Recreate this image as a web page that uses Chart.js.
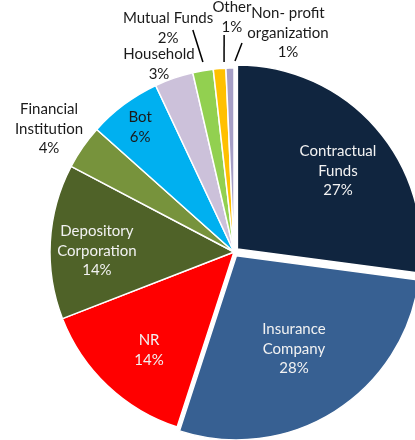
<!DOCTYPE html>
<html>
<head>
<meta charset="utf-8">
<script src="https://cdn.jsdelivr.net/npm/chart.js@4"></script>
<style>
  html, body { margin: 0; padding: 0; background: #ffffff; }
  #pie { display: block; }
</style>
</head>
<body>
<canvas id="pie" width="415" height="440"></canvas>
<script>
// Data (share of holdings, %)
const categories = ['Contractual\nFunds', 'Insurance\nCompany', 'NR', 'Depository\nCorporation',
    'Financial\nInstitution', 'Bot', 'Household', 'Mutual Funds', 'Other', 'Non- profit\norganization'];
const shares = [27.1, 27.9, 14.1, 13.6, 3.9, 6.4, 3.4, 1.8, 1.1, 0.7];

// Styling
const sliceColors = ['#10253f', '#376092', '#ff0000', '#4f6228', '#77933c',
    '#00b0f0', '#ccc1da', '#92d050', '#ffc000', '#a69fc6'];
const sliceOffsets = [18, 18, 0, 0, 0, 0, 0, 0, 0, 0];
const labelColors = ['#f2f2f2', '#f2f2f2', '#f2f2f2', '#f2f2f2', '#1a1a1a',
    '#1a1a1a', '#1a1a1a', '#1a1a1a', '#1a1a1a', '#1a1a1a'];
// label position: [angle in degrees clockwise from top, distance as fraction of radius]
const labelPolar = [[52.1, 0.716], [148.3, 0.62], [220.9, 0.705], [270.4, 0.745], [303.6, 1.207],
    [323.1, 0.85], [338.25, 1.10], [343.6, 1.269], [359.5, 1.277], [13.85, 1.226]];
// leader lines: [startAngle, startDist, endAngle, endDist]
const leaders = {7: [350.7, 1.046, 349.5, 1.227], 8: [357.0, 1.034, 357.4, 1.181], 9: [0.3, 1.038, 2.19, 1.137]};

const FONT = '15px Lato';
const LINE_H = 19.5;

const pieLabels = {
    id: 'pieLabels',
    afterDatasetsDraw(chart) {
        const ctx = chart.ctx;
        const meta = chart.getDatasetMeta(0);
        const total = shares.reduce((a, b) => a + b, 0);
        ctx.save();
        ctx.font = FONT;
        ctx.textAlign = 'center';
        ctx.textBaseline = 'middle';
        meta.data.forEach((arc, i) => {
            const { x, y, outerRadius } = arc.getProps(['x', 'y', 'outerRadius'], true);
            const pt = (deg, f) => {
                const a = deg * Math.PI / 180;
                return [x + Math.sin(a) * f * outerRadius, y - Math.cos(a) * f * outerRadius];
            };
            const lines = categories[i].split('\n');
            lines.push(Math.round(shares[i] / total * 100) + '%');
            const [cx, cy] = pt(labelPolar[i][0], labelPolar[i][1]);
            ctx.fillStyle = labelColors[i];
            const top = cy - (lines.length - 1) * LINE_H / 2;
            lines.forEach((t, k) => ctx.fillText(t, cx, top + k * LINE_H));
            if (leaders[i]) {
                const l = leaders[i];
                const [x1, y1] = pt(l[0], l[1]);
                const [x2, y2] = pt(l[2], l[3]);
                ctx.strokeStyle = '#000000';
                ctx.lineWidth = 1.5;
                ctx.beginPath();
                ctx.moveTo(x1, y1);
                ctx.lineTo(x2, y2);
                ctx.stroke();
            }
        });
        ctx.restore();
    }
};

new Chart(document.getElementById('pie').getContext('2d'), {
    type: 'pie',
    data: {
        labels: categories,
        datasets: [{
            data: shares,
            backgroundColor: sliceColors,
            borderColor: '#ffffff',
            borderWidth: 1.5,
            offset: sliceOffsets,
            clip: false
        }]
    },
    options: {
        responsive: false,
        animation: false,
        radius: 184,
        layout: { padding: { left: 53, right: 0, top: 64, bottom: 0 } },
        plugins: {
            legend: { display: false },
            tooltip: { enabled: false },
            title: { display: false }
        }
    },
    plugins: [pieLabels]
});
</script>
</body>
</html>
